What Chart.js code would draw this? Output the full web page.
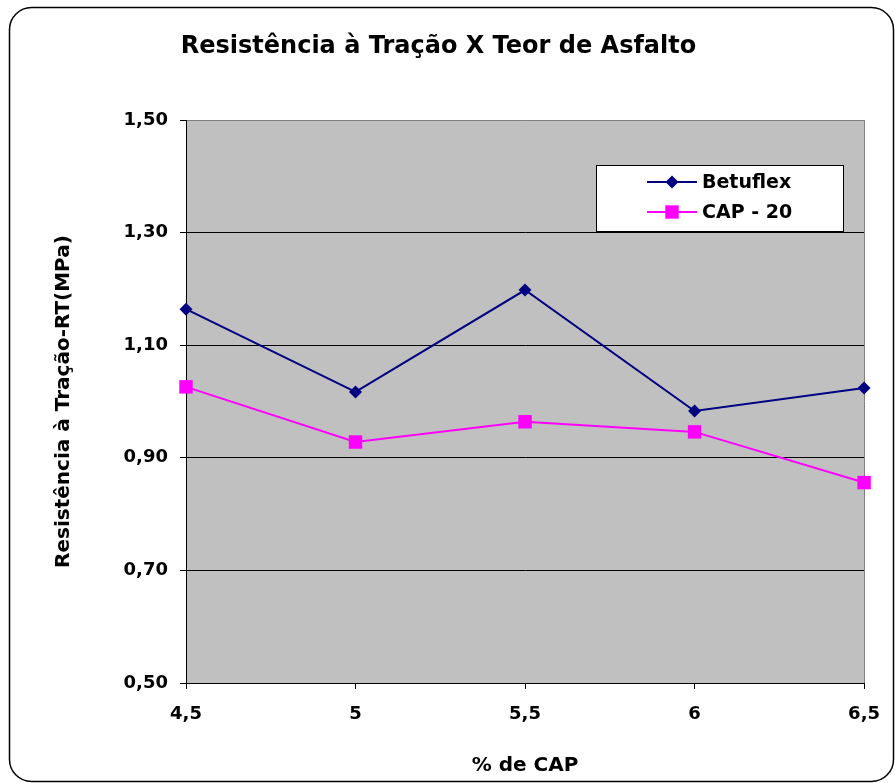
<!DOCTYPE html>
<html lang="pt">
<head>
  <meta charset="UTF-8" />
  <title>Resistência à Tração X Teor de Asfalto</title>
  <script src="https://cdn.jsdelivr.net/npm/chart.js"></script>
  <style>
    body {
      margin: 0;
      background: #fff;
    }
    #wrap {
      width: 895px;
      height: 783px;
    }
  </style>
</head>
<body>
  <div id="wrap">
    <canvas id="rtChart" width="895" height="783"></canvas>
  </div>

  <script>
    // values
    const teorCAP = [4.5, 5, 5.5, 6, 6.5];
    const betuflex = [1.164, 1.017, 1.198, 0.983, 1.024];
    const cap20 = [1.026, 0.928, 0.964, 0.946, 0.856];
    const seriesNames = ['Betuflex', 'CAP - 20'];

    const FONT = "'DejaVu Sans', Verdana, sans-serif";
    const comma = v => String(v).replace('.', ',');

    // white page, rounded frame, grey plot area, title
    const frame = {
      id: 'frame',
      beforeDraw(chart) {
        const c = chart.ctx;
        const a = chart.chartArea;
        c.save();
        c.fillStyle = '#fff';
        c.fillRect(0, 0, chart.width, chart.height);

        c.strokeStyle = '#000';
        c.lineWidth = 1.5;
        c.beginPath();
        c.roundRect(9.5, 7.5, 884, 774, 22);
        c.stroke();

        c.fillStyle = '#c0c0c0';
        c.fillRect(a.left, a.top, a.right - a.left, a.bottom - a.top);

        c.fillStyle = '#000';
        c.font = 'bold 24px ' + FONT;
        c.textAlign = 'center';
        c.textBaseline = 'middle';
        c.fillText('Resistência à Tração X Teor de Asfalto', 438.5, 47);
        c.restore();
      },
      beforeDatasetsDraw(chart) {
        const c = chart.ctx;
        const a = chart.chartArea;
        c.save();
        c.strokeStyle = '#808080';
        c.lineWidth = 1;
        c.beginPath();
        c.moveTo(Math.round(a.right) + 0.5, a.top);
        c.lineTo(Math.round(a.right) + 0.5, a.bottom);
        c.stroke();
        c.restore();
      }
    };

    // legend box inside the plot, like the original
    const boxLegend = {
      id: 'boxLegend',
      afterDraw(chart) {
        const c = chart.ctx;
        c.save();
        c.fillStyle = '#fff';
        c.fillRect(596, 165, 247, 66);
        c.strokeStyle = '#000';
        c.lineWidth = 1;
        c.strokeRect(596.5, 165.5, 247, 66);

        const rows = [182, 212];
        chart.data.datasets.forEach((ds, i) => {
          const y = rows[i];
          c.strokeStyle = ds.borderColor;
          c.lineWidth = 2;
          c.beginPath();
          c.moveTo(647, y);
          c.lineTo(697, y);
          c.stroke();

          c.fillStyle = ds.backgroundColor;
          c.beginPath();
          if (ds.pointStyle === 'rectRot') {
            const r = ds.pointRadius;
            c.moveTo(672 - r, y);
            c.lineTo(672, y - r);
            c.lineTo(672 + r, y);
            c.lineTo(672, y + r);
            c.closePath();
          } else {
            const s = ds.pointRadius * Math.SQRT1_2;
            c.rect(672 - s, y - s, 2 * s, 2 * s);
          }
          c.fill();

          c.fillStyle = '#000';
          c.font = 'bold 19px ' + FONT;
          c.textAlign = 'left';
          c.textBaseline = 'middle';
          c.fillText(ds.label, 702, y + 1);
        });
        c.restore();
      }
    };

    const data = {
      datasets: [
        {
          label: seriesNames[0],
          data: teorCAP.map((x, i) => ({ x: x, y: betuflex[i] })),
          borderColor: '#000080',
          backgroundColor: '#000080',
          borderWidth: 2,
          pointStyle: 'rectRot',
          pointRadius: 6.5,
          pointBorderWidth: 0,
          tension: 0
        },
        {
          label: seriesNames[1],
          data: teorCAP.map((x, i) => ({ x: x, y: cap20[i] })),
          borderColor: '#ff00ff',
          backgroundColor: '#ff00ff',
          borderWidth: 2,
          pointStyle: 'rect',
          pointRadius: 9.5,
          pointBorderWidth: 0,
          tension: 0
        }
      ]
    };

    const config = {
      type: 'line',
      data: data,
      options: {
        responsive: false,
        animation: false,
        clip: false,
        layout: {
          padding: { top: 120, left: 20, right: 27, bottom: 0 }
        },
        plugins: {
          legend: { display: false },
          title: { display: false },
          tooltip: { enabled: false }
        },
        scales: {
          x: {
            type: 'linear',
            min: 4.5,
            max: 6.5,
            afterFit: s => { s.height = 100; },
            ticks: {
              stepSize: 0.5,
              color: '#000',
              padding: 15,
              font: { family: FONT, size: 18, weight: 'bold' },
              callback: v => comma(v)
            },
            grid: {
              drawOnChartArea: false,
              tickLength: 6,
              color: '#000'
            },
            border: { color: '#000', width: 1 },
            title: {
              display: true,
              text: '% de CAP',
              color: '#000',
              padding: { top: 0, bottom: 5 },
              font: { family: FONT, size: 20, weight: 'bold' }
            }
          },
          y: {
            min: 0.5,
            max: 1.5,
            afterFit: s => { s.width = 166; },
            ticks: {
              stepSize: 0.2,
              color: '#000',
              padding: 12,
              font: { family: FONT, size: 18, weight: 'bold' },
              callback: v => v.toFixed(2).replace('.', ',')
            },
            grid: {
              color: ctx => (ctx.tick && Math.abs(ctx.tick.value - 1.5) < 1e-6) ? '#808080' : '#000',
              tickColor: '#000',
              tickLength: 6
            },
            border: { color: '#000', width: 1 },
            title: {
              display: true,
              text: 'Resistência à Tração-RT(MPa)',
              color: '#000',
              padding: { top: 32, bottom: 0 },
              font: { family: FONT, size: 20, weight: 'bold' }
            }
          }
        }
      },
      plugins: [frame, boxLegend]
    };

    const rtChart = new Chart(document.getElementById('rtChart').getContext('2d'), config);
  </script>
</body>
</html>
